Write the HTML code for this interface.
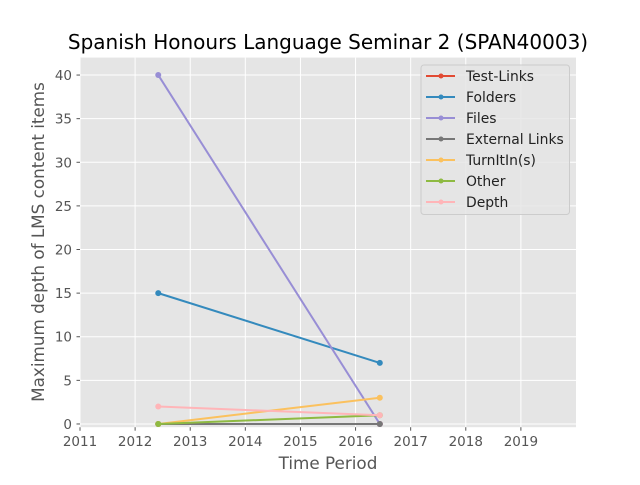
<!DOCTYPE html>
<html><head><meta charset="utf-8"><style>
body{margin:0;background:#fff;}
svg text{font-family:"DejaVu Sans","Liberation Sans",sans-serif;}
</style></head><body>
<svg id="chart" width="640" height="480" viewBox="0 0 640 480">
<rect x="0" y="0" width="640" height="480" fill="#fff"/>
<rect x="80" y="57.6" width="496" height="369.6" fill="#e5e5e5"/>
<g id="grid"></g>
<g id="series"></g>
<g id="ticks"></g>
<text x="328" y="49" text-anchor="middle" font-size="20" fill="#000">Spanish Honours Language Seminar 2 (SPAN40003)</text>
<text x="328" y="469" text-anchor="middle" font-size="16.8" fill="#555">Time Period</text>
<text transform="translate(44,242) rotate(-90)" text-anchor="middle" font-size="16.8" fill="#555">Maximum depth of LMS content items</text>
<g id="legend"></g>
</svg>
<script>
const periods = [2012.42, 2016.44];
const seriesNames = ["Test-Links","Folders","Files","External Links","TurnItIn(s)","Other","Depth"];
const colors = ["#E24A33","#348ABD","#988ED5","#777777","#FBC15E","#8EBA42","#FFB5B8"];
const testLinks = [0,0];
const folders = [15,7];
const files = [40,0];
const externalLinks = [0,0];
const turnitins = [0,3];
const other = [0,1];
const depth = [2,1];
const xTicks = [2011,2012,2013,2014,2015,2016,2017,2018,2019];
const yTicks = [0,5,10,15,20,25,30,35,40];

const NS="http://www.w3.org/2000/svg";
const X0=80,X1=576,Y0=57.6,Y1=427.2,XMIN=2011,XMAX=2020,YMIN=-0.37,YMAX=42;
const xs=v=>X0+(v-XMIN)/(XMAX-XMIN)*(X1-X0);
const ys=v=>Y1-(v-YMIN)/(YMAX-YMIN)*(Y1-Y0);
function mk(tag,attrs,parent){const e=document.createElementNS(NS,tag);for(const k in attrs)e.setAttribute(k,attrs[k]);parent.appendChild(e);return e;}
const grid=document.getElementById('grid'),ticks=document.getElementById('ticks'),ser=document.getElementById('series'),leg=document.getElementById('legend');
xTicks.forEach(t=>{const x=xs(t);
 const g=mk('line',{x1:x,x2:x,y1:Y0,y2:Y1,stroke:'#fff','stroke-width':1},grid);
 
 
 mk('line',{x1:x,x2:x,y1:Y1,y2:Y1+3.5,stroke:'#555','stroke-width':1},ticks);
 const tx=mk('text',{x:x,y:Y1+19,'text-anchor':'middle','font-size':13.5,fill:'#555'},ticks);tx.textContent=t;
 
 
});
yTicks.forEach(t=>{const y=ys(t);
 const g=mk('line',{x1:X0,x2:X1,y1:y,y2:y,stroke:'#fff','stroke-width':1},grid);
 
 
 mk('line',{x1:X0-3.5,x2:X0,y1:y,y2:y,stroke:'#555','stroke-width':1},ticks);
 const tx=mk('text',{x:X0-8,y:y+5,'text-anchor':'end','font-size':13.5,fill:'#555'},ticks);tx.textContent=t;
 
 
});
const allData=[testLinks,folders,files,externalLinks,turnitins,other,depth];
allData.forEach((d,i)=>{
 const g=mk('g',{},ser);
 
 
 mk('polyline',{points:d.map((v,j)=>xs(periods[j])+','+ys(v)).join(' '),fill:'none',stroke:colors[i],'stroke-width':2}, g);
 d.forEach((v,j)=>{const c=mk('circle',{cx:xs(periods[j]),cy:ys(v),r:3,fill:colors[i]},g);
  
  });
});
mk('rect',{x:421,y:65,width:148.5,height:149.5,rx:3,fill:'#e5e5e5','fill-opacity':0.8,stroke:'#ccc','stroke-width':1},leg);
seriesNames.forEach((n,i)=>{const y=76+i*21;
 const g=mk('g',{},leg);
 
 
 mk('line',{x1:426,x2:455,y1:y,y2:y,stroke:colors[i],'stroke-width':2},g);
 mk('circle',{cx:441,cy:y,r:2.5,fill:colors[i]},g);
 const t=mk('text',{x:466,y:y+5,'font-size':13.9,fill:'#222'},g);t.textContent=n;
});
</script>
</body></html>
